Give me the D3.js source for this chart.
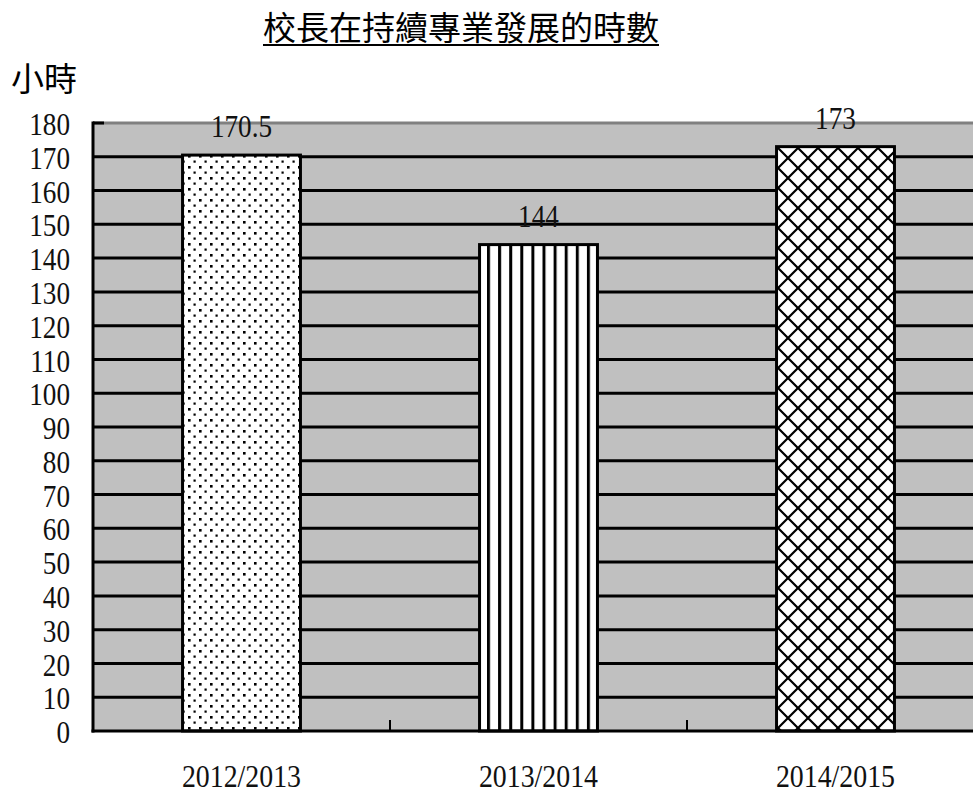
<!DOCTYPE html>
<html><head><meta charset="utf-8">
<script src="https://cdn.jsdelivr.net/npm/d3@7"></script>
<style>body{margin:0;background:#fff;} svg{display:block;}</style>
</head><body>
<svg id="c" width="973" height="793"></svg>
<script>
const categories = ["2012/2013", "2013/2014", "2014/2015"];
const values = [170.5, 144, 173];
const yTicks = [0,10,20,30,40,50,60,70,80,90,100,110,120,130,140,150,160,170,180];
const patterns = ["dots", "vstripes", "diamonds"];
const title = "校長在持續專業發展的時數";
const yTitle = "小時";

const svg = d3.select("#c");
const L = 93, R = 984, B = 731, T = 123;
const x = d3.scaleBand().domain(categories).range([L, R]).paddingInner(0.603).paddingOuter(0.3015);
const y = d3.scaleLinear().domain([0, 180]).range([B, T]);
const serif = "'Liberation Serif','Times New Roman',serif";
const cjk = "'Noto Sans CJK TC','Noto Sans CJK SC',sans-serif";

const defs = svg.append("defs");
const p1 = defs.append("pattern").attr("id","dots").attr("patternUnits","userSpaceOnUse").attr("width",11).attr("height",11);
p1.append("rect").attr("width",11).attr("height",11).attr("fill","#fff");
p1.append("rect").attr("x",1).attr("y",1).attr("width",2.6).attr("height",2.6).attr("fill","#000");
p1.append("rect").attr("x",6.5).attr("y",6.5).attr("width",2.2).attr("height",2.2).attr("fill","#000");
const p2 = defs.append("pattern").attr("id","vstripes").attr("patternUnits","userSpaceOnUse").attr("width",11.1).attr("height",10)
  .attr("patternTransform","translate(487,0)");
p2.append("rect").attr("width",11.1).attr("height",10).attr("fill","#fff");
p2.append("rect").attr("x",0).attr("width",3).attr("height",10).attr("fill","#000");
const p3 = defs.append("pattern").attr("id","diamonds").attr("patternUnits","userSpaceOnUse").attr("width",20).attr("height",20)
  .attr("patternTransform","translate(778,148)");
p3.append("rect").attr("width",20).attr("height",20).attr("fill","#fff");
p3.append("path").attr("d","M-2,-2L22,22M22,-2L-2,22").attr("stroke","#000").attr("stroke-width",2.2).attr("fill","none");

// plot background
svg.append("rect").attr("x",L).attr("y",T).attr("width",973-L).attr("height",B-T).attr("fill","#c0c0c0");

// gridlines
svg.append("g").selectAll("line").data(yTicks.filter(d => d > 0 && d < 180)).join("line")
  .attr("x1",L).attr("x2",973).attr("y1",d=>y(d)).attr("y2",d=>y(d))
  .attr("stroke","#000").attr("stroke-width",3);
// top border
svg.append("line").attr("x1",L).attr("x2",973).attr("y1",y(180)).attr("y2",y(180)).attr("stroke","#808080").attr("stroke-width",3);
svg.append("line").attr("x1",L).attr("x2",L+11).attr("y1",y(180)).attr("y2",y(180)).attr("stroke","#000").attr("stroke-width",3);

// bars
svg.append("g").selectAll("rect").data(categories).join("rect")
  .attr("x",d=>x(d)).attr("width",x.bandwidth())
  .attr("y",(d,i)=>y(values[i])).attr("height",(d,i)=>B-y(values[i]))
  .attr("fill",(d,i)=>`url(#${patterns[i]})`).attr("stroke","#000").attr("stroke-width",3);

// axes
svg.append("line").attr("x1",L).attr("x2",L).attr("y1",T-1.5).attr("y2",B+1.5).attr("stroke","#000").attr("stroke-width",3);
svg.append("line").attr("x1",L-1.5).attr("x2",973).attr("y1",B).attr("y2",B).attr("stroke","#000").attr("stroke-width",3);
const bounds = categories.slice(1).map(d => x(d) - x.step()*x.paddingInner()/2);
svg.append("g").selectAll("line").data(bounds).join("line")
  .attr("x1",d=>d).attr("x2",d=>d).attr("y1",B).attr("y2",B-11).attr("stroke","#000").attr("stroke-width",2);

function squeeze(sel, k){
  sel.each(function(){ const w = this.getComputedTextLength(); d3.select(this).attr("textLength", w*k).attr("lengthAdjust","spacingAndGlyphs"); });
}

// y tick labels
svg.append("g").selectAll("text").data(yTicks).join("text")
  .attr("x",70).attr("y",d=>y(d)).attr("dy","0.38em").attr("text-anchor","end")
  .attr("font-family",serif).attr("font-size",32).attr("fill","#111").text(d=>d)
  .call(squeeze, 0.85);

// x labels
svg.append("g").selectAll("text").data(categories).join("text")
  .attr("x",d=>x(d)+x.bandwidth()/2).attr("y",787).attr("text-anchor","middle")
  .attr("font-family",serif).attr("font-size",32).attr("fill","#111").text(d=>d)
  .call(squeeze, 0.87);

// value labels
svg.append("g").selectAll("text").data(categories).join("text")
  .attr("x",d=>x(d)+x.bandwidth()/2).attr("y",(d,i)=>y(values[i])-18).attr("text-anchor","middle")
  .attr("font-family",serif).attr("font-size",32).attr("fill","#111").text((d,i)=>values[i])
  .call(squeeze, 0.85);

// title
const tt = svg.append("text").attr("x",461).attr("y",40).attr("text-anchor","middle")
  .attr("font-family",cjk).attr("font-size",33).attr("fill","#000").text(title);
const bb = tt.node().getBBox();
svg.append("line").attr("x1",bb.x).attr("x2",bb.x+bb.width).attr("y1",45).attr("y2",45).attr("stroke","#000").attr("stroke-width",2);

svg.append("text").attr("x",11).attr("y",91).attr("font-family",cjk).attr("font-size",33).attr("fill","#000").text(yTitle);
</script>
</body></html>
